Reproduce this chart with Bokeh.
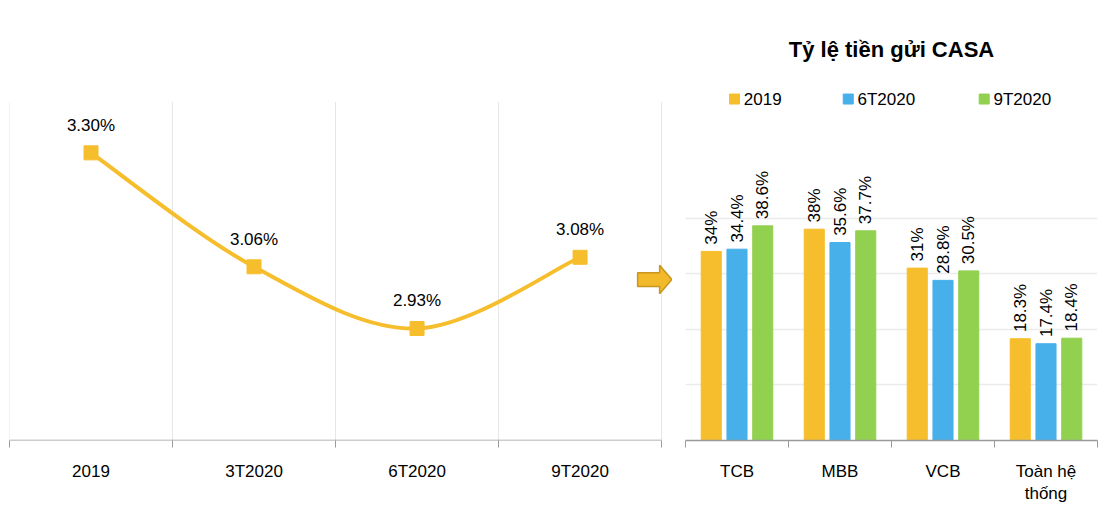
from bokeh.plotting import figure
from bokeh.layouts import row
from bokeh.models import FixedTicker, Range1d
from bokeh.core.properties import value
from bokeh.embed import file_html
from bokeh.resources import INLINE
import math

# ---- data ----
periods = ["2019", "3T2020", "6T2020", "9T2020"]
npl = [3.30, 3.06, 2.93, 3.08]
banks = ["TCB", "MBB", "VCB", "Toàn hệ\nthống"]
series = ["2019", "6T2020", "9T2020"]
casa_2019 = [34.0, 38.0, 31.0, 18.3]
casa_6t = [34.4, 35.6, 28.8, 17.4]
casa_9t = [38.6, 37.7, 30.5, 18.4]
casa_labels = [["34%", "38%", "31%", "18.3%"],
               ["34.4%", "35.6%", "28.8%", "17.4%"],
               ["38.6%", "37.7%", "30.5%", "18.4%"]]
colors = ["#F6BE2C", "#47B0EA", "#92D050"]
FONT = "Liberation Sans"

# ---- left chart ----
ymin = 2.694
ytop = ymin + 451 / 486.5
p1 = figure(width=672, height=506, output_backend="svg", toolbar_location=None,
            x_range=Range1d(0, 4.067), y_range=Range1d(ymin, ytop),
            min_border_left=9, min_border_right=0, min_border_top=0, min_border_bottom=55)
p1.outline_line_color = None
p1.yaxis.visible = False
p1.grid.visible = False
xs = [i + 0.5 for i in range(len(periods))]
gtop = 3.407
p1.segment(x0=list(range(5)), y0=[ymin]*5, x1=list(range(5)), y1=[gtop]*5, line_color="#E6E6E6", line_width=1)
p1.segment(x0=[0], y0=[ymin], x1=[4], y1=[ymin], line_color="#9A9A9A", line_width=1.5)
ax = p1.xaxis[0]
ax.ticker = FixedTicker(ticks=xs, minor_ticks=[0, 1, 2, 3, 4])
ax.major_label_overrides = {x: l for x, l in zip(xs, periods)}
ax.axis_line_color = None
ax.major_tick_line_color = None
ax.minor_tick_line_color = "#9A9A9A"
ax.minor_tick_out = 7
ax.minor_tick_in = 0
ax.major_label_text_font = FONT
ax.major_label_text_font_size = "17px"
ax.major_label_text_color = "#000000"
ax.major_label_standoff = 14

# smooth curve (Catmull-Rom -> bezier) from the data points
pts = list(zip(xs, npl))
bx0, by0, bx1, by1, c0x, c0y, c1x, c1y = [], [], [], [], [], [], [], []
for i in range(len(pts) - 1):
    p0 = pts[i - 1] if i > 0 else pts[i]
    pa, pb = pts[i], pts[i + 1]
    p3 = pts[i + 2] if i + 2 < len(pts) else pts[i + 1]
    bx0.append(pa[0]); by0.append(pa[1]); bx1.append(pb[0]); by1.append(pb[1])
    c0x.append(pa[0] + (pb[0] - p0[0]) / 6); c0y.append(pa[1] + (pb[1] - p0[1]) / 6)
    c1x.append(pb[0] - (p3[0] - pa[0]) / 6); c1y.append(pb[1] - (p3[1] - pa[1]) / 6)
p1.bezier(x0=bx0, y0=by0, x1=bx1, y1=by1, cx0=c0x, cy0=c0y, cx1=c1x, cy1=c1y,
          line_color="#F6BE2C", line_width=4)
p1.scatter(xs, npl, marker="square", size=14, fill_color="#F6BE2C", line_color="#F6BE2C")
p1.text(x=xs, y=[v + 0.058 for v in npl], text=["%.2f%%" % v for v in npl],
        text_align="center", text_baseline="middle", text_font=value(FONT),
        text_font_size="17px", text_color="#000000")
# arrow
ay = 3.033
p1.patch(x=[3.853, 3.988, 3.988, 4.063, 3.988, 3.988, 3.853],
         y=[ay - 0.0144, ay - 0.0144, ay - 0.03, ay, ay + 0.03, ay + 0.0144, ay + 0.0144],
         fill_color="#F2B92A", line_color="#C8961E", line_width=1.5)

# ---- right chart ----
yend = 451 / 5.7
p2 = figure(width=427, height=506, output_backend="svg", toolbar_location=None,
            x_range=Range1d(0, 4), y_range=Range1d(0, yend),
            min_border_left=13, min_border_right=2, min_border_top=0, min_border_bottom=55)
p2.outline_line_color = None
p2.yaxis.visible = False
p2.xgrid.visible = False
p2.ygrid.ticker = FixedTicker(ticks=[10, 20, 30, 40])
p2.ygrid.grid_line_color = "#EBEBEB"
p2.ygrid.grid_line_width = 1.5
cx = [i + 0.5 for i in range(len(banks))]
bx = p2.xaxis[0]
bx.ticker = FixedTicker(ticks=cx, minor_ticks=[0, 1, 2, 3, 4])
bx.major_label_overrides = {x: l for x, l in zip(cx, banks)}
bx.axis_line_color = "#9A9A9A"
bx.axis_line_width = 1.5
bx.major_tick_line_color = None
bx.minor_tick_line_color = "#9A9A9A"
bx.minor_tick_out = 7
bx.minor_tick_in = 0
bx.major_label_text_font = FONT
bx.major_label_text_font_size = "17px"
bx.major_label_text_color = "#000000"
bx.major_label_standoff = 14

vals = [casa_2019, casa_6t, casa_9t]
for k, (vs, col) in enumerate(zip(vals, colors)):
    off = (k - 1) * 0.25
    xk = [c + off for c in cx]
    p2.vbar(x=xk, top=vs, width=0.195, fill_color=col, line_color=col)
    p2.text(x=xk, y=[v + 1.2 for v in vs], text=casa_labels[k], angle=math.pi / 2,
            text_align="left", text_baseline="middle", text_font=value(FONT),
            text_font_size="17px", text_color="#000000")

p2.text(x=[2.0], y=[(451 - 50) / 5.7], text=["Tỷ lệ tiền gửi CASA"], text_align="center",
        text_baseline="middle", text_font=value(FONT), text_font_size="22px",
        text_font_style="bold", text_color="#000000")
leg_sq = [0.476, 1.58, 2.90]
ly = (451 - 101) / 5.7
p2.scatter(x=leg_sq, y=[ly] * 3, marker="square", size=10, fill_color=colors, line_color=colors)
p2.text(x=[v + 0.09 for v in leg_sq], y=[ly] * 3, text=series, text_align="left",
        text_baseline="middle", text_font=value(FONT), text_font_size="17px", text_color="#000000")

layout = row(p1, p2, spacing=0)
open("out.html", "w").write(file_html(layout, INLINE))
